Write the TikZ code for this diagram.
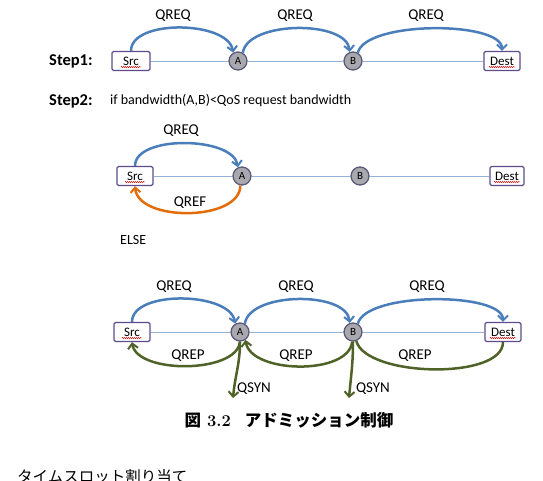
\documentclass[tikz,border=0pt]{standalone}
\usepackage{fontspec}
\setmainfont{Carlito}
\newfontfamily\jp{Noto Sans CJK JP}
\newfontfamily\lmr{Latin Modern Roman}
\usetikzlibrary{arrows.meta,decorations.pathmorphing}
\definecolor{boxc}{HTML}{5F4B8B}
\definecolor{circc}{HTML}{5A5A7A}
\definecolor{circf}{HTML}{A8A8AE}
\definecolor{linkc}{HTML}{95B3D7}
\definecolor{bluc}{HTML}{4A7EBB}
\definecolor{orac}{HTML}{E36C09}
\definecolor{grnc}{HTML}{4F6228}
\tikzset{
  endbox/.style={draw=boxc, line width=1.3pt, fill=white, rounded corners=1.5pt,
    minimum height=19pt, inner sep=1pt, font=\fontsize{13}{14}\selectfont},
  relay/.style={circle, draw=circc, line width=1.3pt, fill=circf, minimum size=18pt,
    inner sep=0pt, font=\fontsize{11}{12}\selectfont},
  link/.style={draw=linkc, line width=0.9pt},
  tip/.style={-{Straight Barb[length=5pt,width=10pt,line width=2pt]}},
  qreq/.style={draw=bluc, line width=2.5pt, tip},
  qref/.style={draw=orac, line width=2.5pt, tip},
  qrep/.style={draw=grnc, line width=2.5pt, tip},
  qrepn/.style={draw=grnc, line width=2.5pt},
  lbl/.style={font=\fontsize{15}{16}\selectfont, inner sep=0pt},
  steplbl/.style={font=\bfseries\fontsize{16.5}{18}\selectfont, inner sep=0pt, anchor=west},
  txt/.style={font=\fontsize{14}{15}\selectfont, inner sep=0pt, anchor=west},
  squig/.style={draw=red!85!black, line width=0.45pt, decorate,
    decoration={snake, segment length=2pt, amplitude=0.6pt}}
}
\begin{document}
\begin{tikzpicture}[x=1pt,y=-1pt]
\useasboundingbox (0,0) rectangle (543,480);
% ---------- Step 1 ----------
\node[steplbl] (st1) at (49,61) {Step1:};
\node[endbox, minimum width=38pt] (S1) at (131,61) {Src};
\node[relay] (A1) at (238,61) {A};
\node[relay] (B1) at (353,61) {B};
\node[endbox, minimum width=36pt] (D1) at (502,61) {Dest};
\draw[link] (S1) -- (A1);
\draw[link] (A1) -- (B1);
\draw[link] (B1) -- (D1);
\draw[squig] ([xshift=-10pt,yshift=-6pt]S1.center) -- ([xshift=10pt,yshift=-6pt]S1.center);
\draw[squig] ([xshift=-13pt,yshift=-6pt]D1.center) -- ([xshift=13pt,yshift=-6pt]D1.center);
\draw[qreq] (S1.north) .. controls +(0,-32) and +(-5,-32) .. (A1.120);
\draw[qreq] (A1.60) .. controls +(5,-32) and +(-3,-32) .. (B1.110);
\draw[qreq] (B1.60) .. controls +(8,-32) and +(0,-30) .. (D1.north);
\node[lbl] (l11) at (173,16) {QREQ};
\node[lbl] (l12) at (295,16) {QREQ};
\node[lbl] (l13) at (426,16) {QREQ};
% ---------- Step 2 ----------
\node[steplbl] (st2) at (49,101) {Step2:};
\node[txt] (cond) at (110,101) {if bandwidth(A,B)<QoS request bandwidth};
\node[endbox, minimum width=36pt] (S2) at (135,176) {Src};
\node[relay] (A2) at (242,176) {A};
\node[relay] (B2) at (360,176) {B};
\node[endbox, minimum width=34pt] (D2) at (507,176) {Dest};
\draw[link] (S2) -- (A2);
\draw[link] (A2) -- (B2);
\draw[link] (B2) -- (D2);
\draw[squig] ([xshift=-10pt,yshift=-6pt]S2.center) -- ([xshift=10pt,yshift=-6pt]S2.center);
\draw[squig] ([xshift=-13pt,yshift=-6pt]D2.center) -- ([xshift=13pt,yshift=-6pt]D2.center);
\draw[qreq] (S2.north) .. controls +(0,-31) and +(-5,-31) .. (A2.115);
\draw[qref] (A2.-100) .. controls +(0,36) and +(3,36) .. (S2.south);
\node[lbl] (l21) at (181,131) {QREQ};
\node[lbl] (l22) at (190,203) {QREF};
\node[txt] (else) at (120,240) {ELSE};
% ---------- Else ----------
\node[endbox, minimum width=36pt] (S3) at (132,332) {Src};
\node[relay] (A3) at (240,332) {A};
\node[relay] (B3) at (353,332) {B};
\node[endbox, minimum width=36pt] (D3) at (503,332) {Dest};
\draw[link] (S3) -- (A3);
\draw[link] (A3) -- (B3);
\draw[link] (B3) -- (D3);
\draw[squig] ([xshift=-10pt,yshift=-6pt]S3.center) -- ([xshift=10pt,yshift=-6pt]S3.center);
\draw[squig] ([xshift=-13pt,yshift=-6pt]D3.center) -- ([xshift=13pt,yshift=-6pt]D3.center);
\draw[qreq] (S3.north) .. controls +(0,-32) and +(-5,-32) .. (A3.120);
\draw[qreq] (A3.60) .. controls +(5,-32) and +(-3,-32) .. (B3.110);
\draw[qreq] (B3.60) .. controls +(8,-32) and +(0,-30) .. (D3.north);
\node[lbl] (l31) at (174,287) {QREQ};
\node[lbl] (l32) at (296,287) {QREQ};
\node[lbl] (l33) at (427,287) {QREQ};
\draw[qrep] (A3.south) .. controls +(-3,32) and +(5,32) .. (S3.south);
\draw[qrep] (B3.-95) .. controls +(-3,34) and +(5,34) .. (A3.-55);
\draw[qrepn] (D3.south) .. controls +(0,38) and +(10,36) .. (B3.-70);
\node[lbl] (l34) at (188,356) {QREP};
\node[lbl] (l35) at (296,356) {QREP};
\node[lbl] (l36) at (415,356) {QREP};
\coordinate (qa) at (233,398);
\coordinate (qb) at (349,398);
\draw[qrep] (A3.south) .. controls +(0,22) and +(2,-22) .. (qa);
\draw[qrep] (B3.south) .. controls +(0,22) and +(2,-22) .. (qb);
\node[lbl] (l37) at (254,389) {QSYN};
\node[lbl] (l38) at (373,389) {QSYN};
% ---------- caption ----------
\node[inner sep=0pt, font=\fontsize{16.5}{17}\selectfont] (cap) at (289,420)
  {{\jp\bfseries 図}\hspace{6pt}{\lmr\bfseries 3.2}\hspace{14pt}{\jp\bfseries アドミッション制御}};
\node[inner sep=0pt, anchor=north west, font=\fontsize{15.5}{16}\selectfont\jp] (sub) at (17,469)
  {タイムスロット割り当て};
\end{tikzpicture}
\end{document}
